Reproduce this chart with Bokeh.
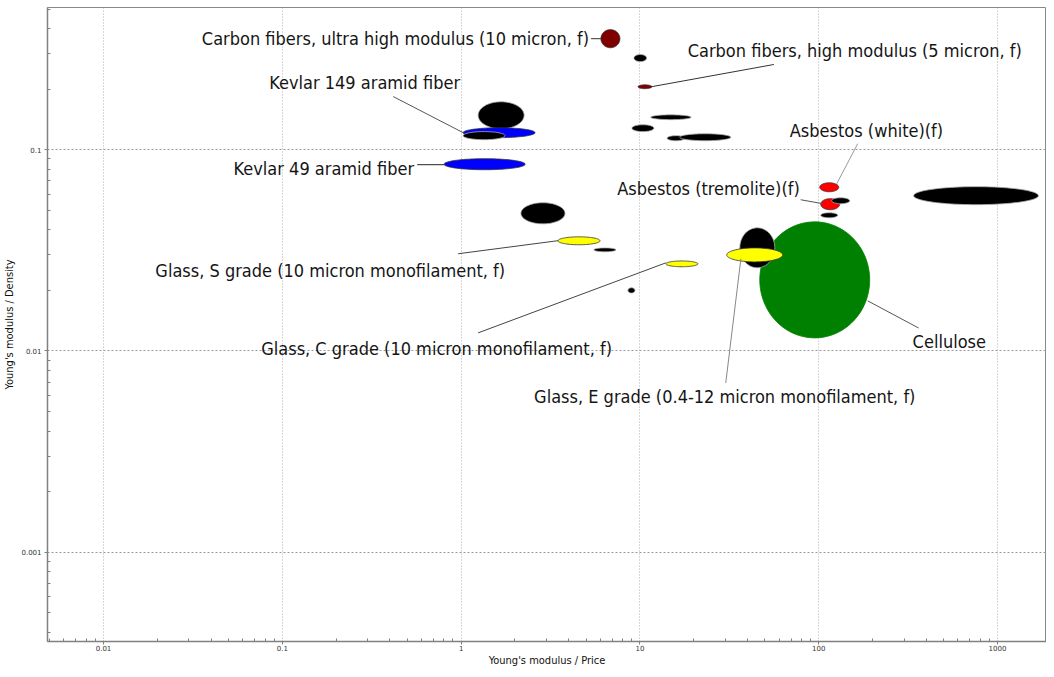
import numpy as np
from bokeh.plotting import figure
from bokeh.models import FixedTicker, Range1d, ColumnDataSource
from bokeh.core.properties import value
from bokeh.embed import file_html
from bokeh.resources import INLINE

# ---- material ranges (Young's modulus / Price, Young's modulus / Density) ----
names = [
    "Cellulose", "Fiber A", "Kevlar 149 aramid fiber", "Fiber B",
    "Kevlar 49 aramid fiber", "Carbon fibers, ultra high modulus (10 micron, f)",
    "Fiber C", "Carbon fibers, high modulus (5 micron, f)", "Fiber D", "Fiber E",
    "Fiber F", "Fiber G", "Fiber H", "Glass, S grade (10 micron monofilament, f)",
    "Fiber I", "Glass, C grade (10 micron monofilament, f)", "Fiber J", "Fiber K",
    "Glass, E grade (0.4-12 micron monofilament, f)", "Asbestos (white)(f)",
    "Asbestos (tremolite)(f)", "Fiber L", "Fiber M", "Fiber N",
]
x_min = [46.8, 1.245, 1.026, 1.026, 0.803, 6.05, 9.26, 9.75, 11.5, 9.02, 14.2, 16.7,
         2.16, 3.48, 5.53, 13.97, 8.57, 36.2, 30.6, 101.3, 102.6, 118.2, 102.6, 339.6]
x_max = [192.8, 2.25, 2.59, 1.76, 2.28, 7.73, 10.9, 11.67, 19.3, 11.97, 17.8, 32.2,
         3.81, 5.98, 7.34, 21.1, 9.38, 56.8, 62.9, 129.4, 131.0, 149.0, 127.7, 1694.0]
y_min = [0.01161, 0.127, 0.1148, 0.1121, 0.0795, 0.321, 0.274, 0.201, 0.141, 0.123,
         0.1108, 0.1108, 0.0428, 0.0337, 0.0311, 0.0262, 0.0194, 0.0259, 0.0277,
         0.0618, 0.0503, 0.0539, 0.0459, 0.0533]
y_max = [0.0438, 0.173, 0.1285, 0.123, 0.0902, 0.395, 0.297, 0.210, 0.149, 0.133,
         0.1174, 0.120, 0.0545, 0.0369, 0.0325, 0.0280, 0.0206, 0.0409, 0.0325,
         0.0685, 0.0571, 0.0577, 0.0486, 0.0655]
fill_colors = ["#008000", "#000000", "#0000ff", "#000000", "#0000ff", "#800000",
               "#000000", "#800000", "#000000", "#000000", "#000000", "#000000",
               "#000000", "#ffff00", "#000000", "#ffff00", "#000000", "#000000",
               "#ffff00", "#ff0000", "#ff0000", "#000000", "#000000", "#000000"]

# ---- axis ticks ----
x_ticks = [0.01, 0.1, 1, 10, 100, 1000]
x_tick_labels = ["0.01", "0.1", "1", "10", "100", "1000"]
y_ticks = [0.001, 0.01, 0.1]
y_tick_labels = ["0.001", "0.01", "0.1"]

# ---- annotation labels ----
label_right_text = ["Carbon fibers, ultra high modulus (10 micron, f)",
                    "Kevlar 149 aramid fiber", "Kevlar 49 aramid fiber",
                    "Asbestos (tremolite)(f)",
                    "Glass, S grade (10 micron monofilament, f)",
                    "Glass, C grade (10 micron monofilament, f)"]
label_right_x = [5.19, 0.987, 0.546, 78.3, 1.762, 6.98]
label_right_y = [0.356, 0.2154, 0.0804, 0.064, 0.0250, 0.01023]
label_left_text = ["Carbon fibers, high modulus (5 micron, f)", "Asbestos (white)(f)",
                   "Glass, E grade (0.4-12 micron monofilament, f)", "Cellulose"]
label_left_x = [18.5, 68.9, 2.56, 335.0]
label_left_y = [0.311, 0.1243, 0.00591, 0.01109]

leader_x0 = [5.33, 11.67, 0.417, 0.568, 165.2, 79.3, 0.962, 1.245, 30.2, 187.8]
leader_y0 = [0.356, 0.2057, 0.1836, 0.0842, 0.1071, 0.0564, 0.0304, 0.0123, 0.00693, 0.01774]
leader_x1 = [6.05, 56.1, 1.026, 0.803, 126.1, 105.2, 3.48, 13.97, 36.7, 362.0]
leader_y1 = [0.356, 0.265, 0.1215, 0.0842, 0.0677, 0.0539, 0.0353, 0.0274, 0.0287, 0.0130]
leader_colors = ["#333333", "#333333", "#555555", "#222222", "#999999", "#555555",
                 "#444444", "#444444", "#888888", "#555555"]

# ---- build ellipse outlines in log space ----
t = np.linspace(0, 2 * np.pi, 90)
xs, ys = [], []
for a, b, c, d in zip(x_min, x_max, y_min, y_max):
    cx = (np.log10(a) + np.log10(b)) / 2
    rx = (np.log10(b) - np.log10(a)) / 2
    cy = (np.log10(c) + np.log10(d)) / 2
    ry = (np.log10(d) - np.log10(c)) / 2
    xs.append(list(10 ** (cx + rx * np.cos(t))))
    ys.append(list(10 ** (cy + ry * np.sin(t))))
line_colors = []
for c in fill_colors:
    if c == "#000000":
        line_colors.append("#b0b0b0")
    elif c == "#008000":
        line_colors.append("#008000")
    else:
        line_colors.append("#333333")

src = ColumnDataSource(dict(xs=xs, ys=ys, fill=fill_colors, line=line_colors, name=names))

p = figure(width=1046, height=669, x_axis_type="log", y_axis_type="log",
           x_range=Range1d(0.00486, 1879), y_range=Range1d(0.000360, 0.5087),
           output_backend="svg", toolbar_location=None,
           min_border_left=46, min_border_right=0, min_border_top=7, min_border_bottom=24)
p.outline_line_color = "#888888"

p.patches("xs", "ys", source=src, fill_color="fill", line_color="line", line_width=0.8)

p.segment(leader_x0, leader_y0, leader_x1, leader_y1, line_color=leader_colors, line_width=1)

font = value("DejaVu Sans Condensed")
p.text(label_right_x, label_right_y, text=label_right_text, text_align="right",
       text_baseline="middle", text_font=font, text_font_size="18px", text_color="#151515")
p.text(label_left_x, label_left_y, text=label_left_text, text_align="left",
       text_baseline="middle", text_font=font, text_font_size="18px", text_color="#151515")

# axes
minor_x = [m * 10.0 ** e for e in range(-3, 4) for m in range(2, 10)]
minor_y = [m * 10.0 ** e for e in range(-4, 0) for m in range(2, 10)]
p.xaxis.ticker = FixedTicker(ticks=x_ticks, minor_ticks=minor_x)
p.yaxis.ticker = FixedTicker(ticks=y_ticks, minor_ticks=minor_y)
p.xaxis.major_label_overrides = {v: s for v, s in zip(x_ticks, x_tick_labels)}
p.yaxis.major_label_overrides = {v: s for v, s in zip(y_ticks, y_tick_labels)}

for ax in (p.xaxis[0], p.yaxis[0]):
    ax.axis_line_color = "#808080"
    ax.axis_line_width = 1.5
    ax.major_tick_line_color = "#808080"
    ax.minor_tick_line_color = "#808080"
    ax.major_tick_out = 3
    ax.major_tick_in = 0
    ax.minor_tick_out = 0
    ax.minor_tick_in = 3
    ax.major_label_text_font = "DejaVu Sans"
    ax.major_label_text_font_size = "7px"
    ax.major_label_text_color = "#333333"
    ax.axis_label_text_font = "DejaVu Sans Condensed"
    ax.axis_label_text_font_size = "11px"
    ax.axis_label_text_font_style = "normal"
    ax.axis_label_text_color = "#111111"
    ax.axis_label_standoff = 0

p.xaxis.major_label_standoff = 0
p.yaxis.major_label_standoff = 3
p.yaxis.axis_label_standoff = 2

p.xaxis.axis_label = "Young's modulus / Price"
p.yaxis.axis_label = "Young's modulus / Density"

p.xgrid.grid_line_color = "#b0b0b0"
p.xgrid.grid_line_dash = "1 2"
p.ygrid.grid_line_color = "#999999"
p.ygrid.grid_line_dash = "2 2"

open("out.html", "w").write(file_html(p, INLINE))
